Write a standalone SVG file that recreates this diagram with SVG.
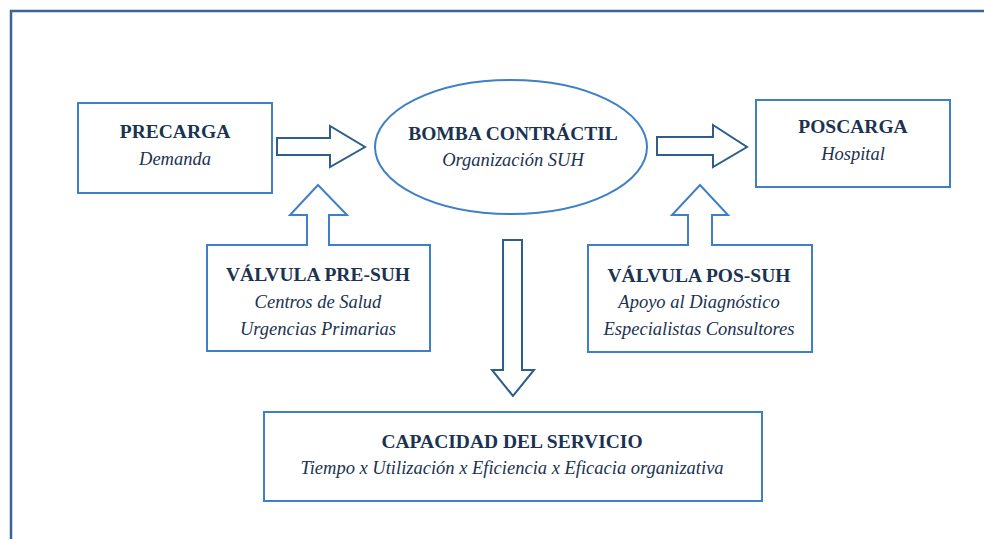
<svg xmlns="http://www.w3.org/2000/svg" width="984" height="539" viewBox="0 0 984 539">
<style>
.box{fill:#fff;stroke:#3f7fc6;stroke-width:2}
.arrow{fill:#fff;stroke:#2f5d8c;stroke-width:2;stroke-linejoin:miter}
.t{font-family:'Liberation Serif','DejaVu Serif',serif;fill:#1b3350;text-anchor:middle}
.b{font-weight:bold;font-size:19.5px}
.i{font-style:italic;font-size:18.5px}
</style>
<rect width="984" height="539" fill="#fff"/>
<path d="M11,539 V11 H984" fill="none" stroke="#3a6591" stroke-width="2.5"/>
<g id="connectors">
<path class="arrow" d="M277,138 H330 V126 L365,147 L330,167 V155 H277 Z"/>
<path class="arrow" d="M657,137 H713 V125 L747,147 L713,167 V155 H657 Z"/>
<path class="arrow" d="M503,240 H522 V370 H534 L513,396 L492,370 H503 Z"/>
</g>
<g id="precarga">
<rect class="box" x="78" y="103" width="194" height="90"/>
<text class="t b" x="175" y="138" font-family="Liberation Serif, serif">PRECARGA</text>
<text class="t i" x="175" y="165" font-family="Liberation Serif, serif">Demanda</text>
</g>
<g id="bomba">
<ellipse class="box" cx="511" cy="147" rx="136" ry="67"/>
<text class="t b" x="513" y="140">BOMBA CONTRÁCTIL</text>
<text class="t i" x="513" y="166">Organización SUH</text>
</g>
<g id="poscarga">
<rect class="box" x="756" y="100" width="194" height="87"/>
<text class="t b" x="853" y="133">POSCARGA</text>
<text class="t i" x="853" y="160">Hospital</text>
</g>
<g id="valvula-pre">
<path class="box" d="M207,245 H307 V215 H290 L318,185 L347,215 H329 V245 H430 V351 H207 Z"/>
<text class="t b" x="318" y="281">VÁLVULA PRE-SUH</text>
<text class="t i" x="318" y="308">Centros de Salud</text>
<text class="t i" x="318" y="335">Urgencias Primarias</text>
</g>
<g id="valvula-pos">
<path class="box" d="M588,245 H688 V215 H672 L700,185 L728,215 H712 V245 H812 V352 H588 Z"/>
<text class="t b" x="699" y="282">VÁLVULA POS-SUH</text>
<text class="t i" x="699" y="308">Apoyo al Diagnóstico</text>
<text class="t i" x="699" y="335">Especialistas Consultores</text>
</g>
<g id="capacidad">
<rect class="box" x="264" y="412" width="498" height="89"/>
<text class="t b" x="512" y="448">CAPACIDAD DEL SERVICIO</text>
<text class="t i" x="512" y="474">Tiempo x Utilización x Eficiencia x Eficacia organizativa</text>
</g>
</svg>
